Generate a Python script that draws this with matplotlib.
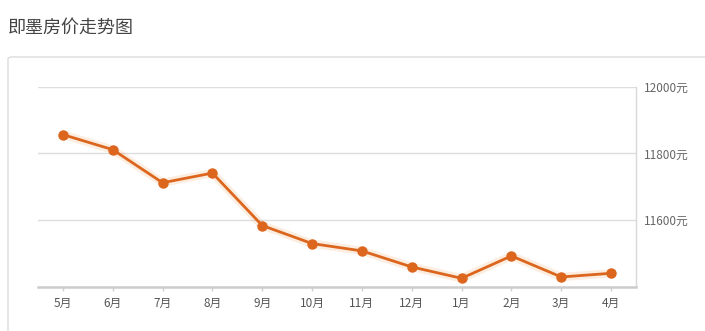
import matplotlib
matplotlib.use("Agg")
import matplotlib.pyplot as plt
from matplotlib.patches import FancyBboxPatch

plt.rcParams['font.family'] = ['Noto Sans CJK SC', 'DejaVu Sans']

months = ["5月", "6月", "7月", "8月", "9月", "10月", "11月", "12月", "1月", "2月", "3月", "4月"]
prices = [11856, 11811, 11712, 11741, 11584, 11530, 11508, 11460, 11426, 11493, 11430, 11441]
y_ticks = [11600, 11800, 12000]
y_tick_labels = ["11600元", "11800元", "12000元"]
title = "即墨房价走势图"

W, H = 705, 331
fig = plt.figure(figsize=(W / 100, H / 100), dpi=100)
fig.patch.set_facecolor("white")

# panel border
panel = FancyBboxPatch((8 / W, -20 / H), (W + 20) / W, (H - 57 + 20) / H,
                       boxstyle="round,pad=0,rounding_size=0.006",
                       transform=fig.transFigure, facecolor="white",
                       edgecolor="#dcdcdc", linewidth=1.0, zorder=-5)
fig.patches.append(panel)

fig.text(8 / W, 1 - 28 / H, title, fontsize=13, color="#444444", va="center", ha="left")

left, right, top, bottom = 38, 636, 86.5, 287
ax = fig.add_axes([left / W, 1 - bottom / H, (right - left) / W, (bottom - top) / H])
ax.set_zorder(2)
ax.set_facecolor("none")

x = list(range(len(months)))
ax.plot(x, prices, color="#f08a3c", linewidth=6, alpha=0.15, solid_capstyle="round", zorder=2)
ax.plot(x, prices, color="#dc661d", linewidth=2, marker="o", markersize=6.5,
        markerfacecolor="#dc661d", markeredgecolor="#dc661d", zorder=3)

ax.set_xlim(-0.5, len(months) - 0.5)
ax.set_ylim(11400, 12000)
ax.set_xticks(x)
ax.set_xticklabels(months)
ax.set_yticks(y_ticks)
ax.set_yticklabels(y_tick_labels)
ax.yaxis.tick_right()
ax.tick_params(axis="y", length=0, pad=6, labelsize=8.5, labelcolor="#666666")
ax.tick_params(axis="x", length=3, width=1, color="#d0d0d0", pad=4, labelsize=8.5, labelcolor="#555555")

ax.grid(axis="y", color="#dddddd", linewidth=1)
ax.set_axisbelow(True)
for s in ["top", "left"]:
    ax.spines[s].set_visible(False)
ax.spines["right"].set_color("#d8d8d8")
ax.spines["right"].set_linewidth(1)
ax.spines["bottom"].set_color("#cccccc")
ax.spines["bottom"].set_linewidth(1.8)

fig.savefig("out.png", dpi=100, facecolor="white")
